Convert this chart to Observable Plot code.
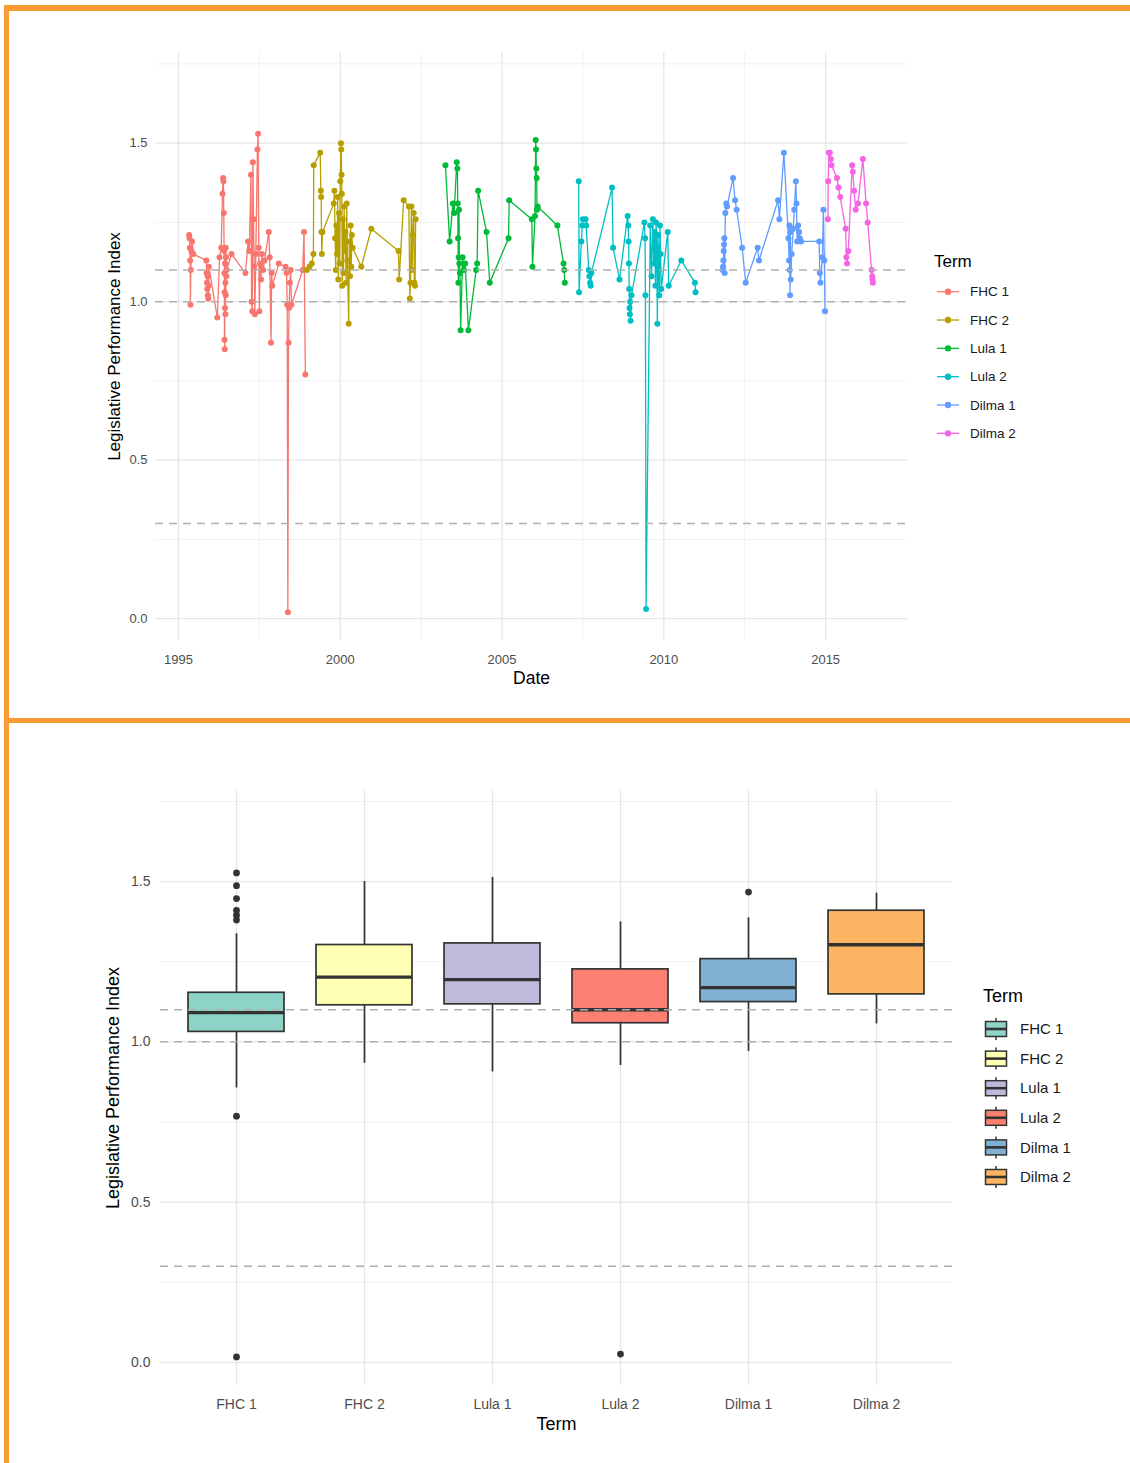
<!DOCTYPE html>
<html>
<head>
<meta charset="utf-8">
<script src="https://cdn.jsdelivr.net/npm/d3@7"></script>
<script src="https://cdn.jsdelivr.net/npm/@observablehq/plot@0.6"></script>
<style>
  body { margin: 0; background: #fff; }
  #page { position: relative; width: 1130px; height: 1463px; overflow: hidden; background: #fff;
          font-family: "Liberation Sans", Arial, sans-serif; }
  .bar { position: absolute; background: #FA9A35; }
  .chart { position: absolute; left: 0; }
  .legend { position: absolute; }
</style>
</head>
<body>
<div id="page">
  <div id="series-chart" class="chart" style="top:0"></div>
  <div id="box-chart" class="chart" style="top:720px"></div>
  <div id="series-legend" class="legend" style="left:925px; top:240px"></div>
  <div id="box-legend" class="legend" style="left:975px; top:975px"></div>
  <div class="bar" style="left:4px; top:5px; width:1126px; height:6px"></div>
  <div class="bar" style="left:4px; top:5px; width:5px; height:1458px"></div>
  <div class="bar" style="left:4px; top:718px; width:1126px; height:5px"></div>
</div>
<script>
// Presidential terms, in order
const terms = ["FHC 1", "FHC 2", "Lula 1", "Lula 2", "Dilma 1", "Dilma 2"];
const lineColors = ["#F8766D", "#B79F00", "#00BA38", "#00BFC4", "#619CFF", "#F564E3"];
const boxColors = ["#8DD3C7", "#FFFFB3", "#BEBADA", "#FB8072", "#80B1D3", "#FDB462"];

// Axis ticks and reference levels
const dateTicks = [1995, 2000, 2005, 2010, 2015];
const dateMinor = [1997.5, 2002.5, 2007.5, 2012.5];
const indexTicks = [0, 0.5, 1.0, 1.5];
const indexMinor = [0.25, 0.75, 1.25, 1.75];
const referenceLevels = [0.3, 1.0, 1.1];

// Legislative performance index by term: [date (decimal year), index]
const fhc1 = [
  [1995.33,1.21],[1995.34,1.20],[1995.35,1.17],[1995.36,1.13],[1995.37,0.99],[1995.38,1.10],[1995.40,1.16],[1995.42,1.19],[1995.46,1.15],
  [1995.86,1.13],[1995.87,1.09],[1995.88,1.06],[1995.89,1.04],[1995.90,1.08],[1995.91,1.02],[1995.92,1.01],[1995.93,1.05],[1995.94,1.11],
  [1996.20,0.95],
  [1996.27,1.14],[1996.32,1.17],[1996.36,1.34],[1996.38,1.39],[1996.39,1.38],[1996.40,1.28],[1996.41,1.16],[1996.42,1.09],[1996.42,0.88],
  [1996.43,0.85],[1996.43,1.03],[1996.44,0.98],[1996.44,1.12],[1996.45,1.06],[1996.45,0.96],[1996.46,1.17],[1996.46,1.02],[1996.47,1.14],
  [1996.48,1.08],[1996.49,1.10],
  [1996.64,1.15],
  [1997.07,1.09],
  [1997.15,1.19],[1997.19,1.16],[1997.24,1.40],[1997.26,1.00],[1997.28,0.97],[1997.30,1.44],[1997.32,1.26],[1997.34,1.11],[1997.36,0.96],
  [1997.39,1.15],[1997.44,1.48],[1997.46,1.53],[1997.48,1.17],[1997.50,0.97],[1997.52,1.12],[1997.55,1.07],[1997.58,1.15],[1997.62,1.10],
  [1997.66,1.13],
  [1997.79,1.22],[1997.82,1.14],[1997.86,0.87],[1997.88,1.09],[1997.90,1.05],
  [1998.10,1.12],
  [1998.31,1.11],[1998.34,1.09],[1998.36,0.99],[1998.38,0.02],[1998.40,0.87],[1998.42,0.98],[1998.44,1.06],[1998.47,1.10],[1998.49,0.99],
  [1998.84,1.10],[1998.88,1.22],[1998.92,0.77]
];
const fhc2 = [
  [1998.97,1.10],[1999.05,1.11],[1999.12,1.12],[1999.17,1.15],[1999.18,1.43],[1999.38,1.47],[1999.40,1.35],[1999.41,1.33],[1999.42,1.22],
  [1999.43,1.15],[1999.45,1.22],
  [1999.80,1.31],[1999.82,1.35],[1999.84,1.20],[1999.86,1.10],[1999.88,1.24],[1999.90,1.15],[1999.92,1.33],[1999.94,1.07],[1999.96,1.28],
  [1999.98,1.12],[2000.00,1.38],[2000.02,1.50],[2000.03,1.48],[2000.04,1.40],[2000.05,1.34],[2000.06,1.05],[2000.08,1.26],[2000.10,1.09],
  [2000.12,1.30],[2000.14,1.16],[2000.16,1.22],[2000.18,1.06],[2000.20,1.31],[2000.22,1.13],[2000.26,0.93],[2000.28,1.19],[2000.30,1.08],
  [2000.32,1.24],[2000.34,1.11],[2000.36,1.21],[2000.38,1.17],
  [2000.65,1.11],[2000.96,1.23],
  [2001.80,1.16],[2001.82,1.07],[2001.96,1.32],[2002.12,1.30],[2002.15,1.01],[2002.17,1.06],[2002.20,1.30],[2002.22,1.10],[2002.24,1.21],
  [2002.27,1.28],[2002.29,1.06],[2002.31,1.05],[2002.33,1.26]
];
const lula1 = [
  [2003.25,1.43],[2003.38,1.19],[2003.48,1.31],[2003.52,1.28],[2003.60,1.44],[2003.62,1.42],[2003.63,1.31],[2003.64,1.20],[2003.65,1.06],
  [2003.66,1.14],[2003.67,1.29],[2003.68,1.12],[2003.70,1.09],[2003.72,0.91],[2003.78,1.14],[2003.82,1.10],[2003.86,1.12],[2003.96,0.91],
  [2004.20,1.10],[2004.23,1.12],[2004.26,1.35],[2004.52,1.22],[2004.62,1.06],[2005.20,1.20],[2005.22,1.32],
  [2005.92,1.26],[2005.94,1.11],[2006.02,1.27],[2006.04,1.51],[2006.05,1.48],[2006.06,1.42],[2006.07,1.39],[2006.08,1.29],[2006.10,1.30],
  [2006.71,1.24],[2006.90,1.12],[2006.92,1.10],[2006.94,1.06]
];
const lula2 = [
  [2007.37,1.38],[2007.38,1.03],[2007.45,1.19],[2007.48,1.24],[2007.50,1.26],[2007.58,1.26],[2007.60,1.24],[2007.68,1.10],[2007.70,1.08],
  [2007.72,1.06],[2007.74,1.05],[2007.76,1.09],
  [2008.40,1.36],[2008.43,1.17],[2008.63,1.07],
  [2008.88,1.27],[2008.90,1.24],[2008.91,1.19],[2008.92,1.12],[2008.93,1.04],[2008.94,0.98],[2008.95,0.96],[2008.96,1.00],[2008.97,0.94],
  [2009.00,1.02],
  [2009.40,1.25],[2009.42,1.20],[2009.43,1.02],[2009.45,0.03],[2009.58,1.24],[2009.62,1.08],[2009.66,1.26],[2009.69,1.12],[2009.72,1.22],
  [2009.74,1.05],[2009.76,1.25],[2009.78,1.17],[2009.80,0.93],[2009.82,1.21],[2009.84,1.10],[2009.86,1.02],[2009.88,1.24],[2009.90,1.15],
  [2009.92,1.04],
  [2010.12,1.22],[2010.15,1.05],[2010.54,1.13],[2010.96,1.06],[2010.98,1.03]
];
const dilma1 = [
  [2011.82,1.10],[2011.83,1.11],[2011.84,1.13],[2011.85,1.16],[2011.86,1.18],[2011.87,1.20],[2011.88,1.09],[2011.90,1.28],[2011.93,1.31],
  [2011.95,1.30],[2012.14,1.39],[2012.20,1.32],[2012.25,1.29],[2012.42,1.17],[2012.53,1.06],[2012.90,1.17],[2012.94,1.13],
  [2013.53,1.32],[2013.57,1.26],[2013.71,1.47],[2013.85,1.20],[2013.87,1.13],[2013.88,1.24],[2013.89,1.10],[2013.90,1.02],[2013.91,1.22],
  [2013.92,1.07],[2013.95,1.15],[2014.00,1.23],[2014.03,1.29],[2014.08,1.38],[2014.10,1.31],[2014.12,1.19],[2014.15,1.24],[2014.18,1.22],
  [2014.20,1.20],[2014.24,1.19],[2014.80,1.19],[2014.82,1.09],[2014.84,1.06],[2014.90,1.14],[2014.93,1.29],[2014.96,1.13],[2014.98,0.97]
];
const dilma2 = [
  [2015.07,1.26],[2015.08,1.38],[2015.10,1.47],[2015.13,1.47],[2015.16,1.45],[2015.18,1.43],[2015.35,1.39],[2015.40,1.36],[2015.45,1.33],
  [2015.62,1.23],[2015.64,1.14],[2015.66,1.12],[2015.70,1.16],[2015.82,1.43],[2015.84,1.41],[2015.88,1.35],[2015.93,1.29],[2016.00,1.31],
  [2016.15,1.45],[2016.25,1.31],[2016.30,1.25],[2016.42,1.10],[2016.44,1.08],[2016.45,1.07],[2016.46,1.06]
];

// Box summaries per term (same order as terms)
const whiskerLow  = [0.856, 0.933, 0.906, 0.926, 0.970, 1.056];
const quartile1   = [1.031, 1.114, 1.117, 1.058, 1.124, 1.148];
const medians     = [1.091, 1.202, 1.194, 1.100, 1.169, 1.303];
const quartile3   = [1.153, 1.302, 1.307, 1.226, 1.258, 1.409];
const whiskerHigh = [1.337, 1.500, 1.513, 1.374, 1.387, 1.464];
const outlierValues = [
  [1.527, 1.487, 1.447, 1.410, 1.395, 1.380, 0.768, 0.017],
  [],
  [],
  [0.026],
  [1.467],
  []
];

// Tidy tables built from the arrays above
const seriesByTerm = [fhc1, fhc2, lula1, lula2, dilma1, dilma2];
const series = terms.flatMap((term, i) => seriesByTerm[i].map(([date, value]) => ({term, date, value})));
const boxes = terms.map((term, i) => ({
  term, low: whiskerLow[i], q1: quartile1[i], median: medians[i], q3: quartile3[i], high: whiskerHigh[i]
}));
const outliers = terms.flatMap((term, i) => outlierValues[i].map(value => ({term, value})));

const font = "'Liberation Sans', Arial, sans-serif";
const gridMajor = "#e6e6e6";
const gridMinor = "#f1f1f1";
const dashColor = "#b0b0b0";
const tickColor = "#4d4d4d";

// Time series of the index, coloured by term
const seriesChart = Plot.plot({
  width: 920,
  height: 700,
  marginLeft: 155,
  marginRight: 13,
  marginTop: 52,
  marginBottom: 60,
  style: {fontFamily: font, background: "transparent", overflow: "visible"},
  x: {domain: [1994.29, 2017.53]},
  y: {domain: [-0.069, 1.786]},
  color: {domain: terms, range: lineColors},
  marks: [
    Plot.ruleY(indexMinor, {stroke: gridMinor, strokeWidth: 1}),
    Plot.ruleX(dateMinor, {stroke: gridMinor, strokeWidth: 1}),
    Plot.ruleY(indexTicks, {stroke: gridMajor, strokeWidth: 1.3}),
    Plot.ruleX(dateTicks, {stroke: gridMajor, strokeWidth: 1.3}),
    Plot.line(series, {x: "date", y: "value", z: "term", stroke: "term", strokeWidth: 1.3}),
    Plot.dot(series, {x: "date", y: "value", fill: "term", r: 3}),
    Plot.ruleY(referenceLevels, {stroke: dashColor, strokeWidth: 1.5, strokeDasharray: "8,6"}),
    Plot.axisX(dateTicks, {tickSize: 0, tickPadding: 14, tickFormat: "d", label: null, fontSize: 13, color: tickColor}),
    Plot.axisY(indexTicks, {tickSize: 0, tickPadding: 8, tickFormat: ".1f", label: null, fontSize: 13, color: tickColor}),
    Plot.text(["Date"], {frameAnchor: "bottom", lineAnchor: "middle", dy: 38, fontSize: 17.5, fill: "#000"}),
    Plot.text(["Legislative Performance Index"], {frameAnchor: "left", textAnchor: "middle", dx: -41, rotate: -90, fontSize: 17, fill: "#000"})
  ]
});
document.getElementById("series-chart").append(seriesChart);

// Distribution of the index per term
const boxChart = Plot.plot({
  width: 960,
  height: 725,
  marginLeft: 160,
  marginRight: 8,
  marginTop: 70,
  marginBottom: 60,
  style: {fontFamily: font, background: "transparent", overflow: "visible"},
  x: {type: "band", domain: terms, paddingInner: 0.25, paddingOuter: 0.21},
  y: {domain: [-0.072, 1.784]},
  color: {domain: terms, range: boxColors},
  marks: [
    Plot.ruleY(indexMinor, {stroke: gridMinor, strokeWidth: 1}),
    Plot.ruleY(indexTicks, {stroke: gridMajor, strokeWidth: 1.3}),
    Plot.ruleX(terms, {x: d => d, stroke: gridMajor, strokeWidth: 1.3}),
    Plot.ruleX(boxes, {x: "term", y1: "low", y2: "high", stroke: "#333", strokeWidth: 1.7}),
    Plot.barY(boxes, {x: "term", y1: "q1", y2: "q3", fill: "term", stroke: "#333", strokeWidth: 1.7}),
    Plot.tickY(boxes, {x: "term", y: "median", stroke: "#333", strokeWidth: 3.4}),
    Plot.dot(outliers, {x: "term", y: "value", fill: "#333", r: 3.4}),
    Plot.ruleY(referenceLevels, {stroke: dashColor, strokeWidth: 1.5, strokeDasharray: "8,6"}),
    Plot.axisX({tickSize: 0, tickPadding: 14, label: null, fontSize: 14, color: tickColor}),
    Plot.axisY(indexTicks, {tickSize: 0, tickPadding: 10, tickFormat: ".1f", label: null, fontSize: 14, color: tickColor}),
    Plot.text(["Term"], {frameAnchor: "bottom", lineAnchor: "middle", dy: 39, fontSize: 18, fill: "#000"}),
    Plot.text(["Legislative Performance Index"], {frameAnchor: "left", textAnchor: "middle", dx: -47, rotate: -90, fontSize: 18, fill: "#000"})
  ]
});
document.getElementById("box-chart").append(boxChart);

// Legend for the time series: line with a point
(function () {
  const w = 130, h = 210, rowTop = 51.7, step = 28.33;
  let s = `<svg width="${w}" height="${h}" style="font-family:${font}">`;
  s += `<text x="9" y="21" dy="0.35em" font-size="17">Term</text>`;
  terms.forEach((t, i) => {
    const y = rowTop + i * step;
    s += `<line x1="12" x2="34" y1="${y}" y2="${y}" stroke="${lineColors[i]}" stroke-width="1.3"/>`;
    s += `<circle cx="23" cy="${y}" r="3.2" fill="${lineColors[i]}"/>`;
    s += `<text x="45" y="${y}" dy="0.35em" font-size="13.5" fill="#1a1a1a">${t}</text>`;
  });
  s += `</svg>`;
  document.getElementById("series-legend").innerHTML = s;
})();

// Legend for the box plot: small box glyph
(function () {
  const w = 130, h = 220, rowTop = 54, step = 29.6;
  let s = `<svg width="${w}" height="${h}" style="font-family:${font}">`;
  s += `<text x="8" y="21" dy="0.35em" font-size="18">Term</text>`;
  terms.forEach((t, i) => {
    const y = rowTop + i * step;
    s += `<line x1="21" x2="21" y1="${y - 11}" y2="${y + 11}" stroke="#333" stroke-width="1.5"/>`;
    s += `<rect x="10.5" y="${y - 7.5}" width="21" height="15" fill="${boxColors[i]}" stroke="#333" stroke-width="1.5"/>`;
    s += `<line x1="10.5" x2="31.5" y1="${y}" y2="${y}" stroke="#333" stroke-width="2.6"/>`;
    s += `<text x="45" y="${y}" dy="0.35em" font-size="15" fill="#1a1a1a">${t}</text>`;
  });
  s += `</svg>`;
  document.getElementById("box-legend").innerHTML = s;
})();
</script>
</body>
</html>
